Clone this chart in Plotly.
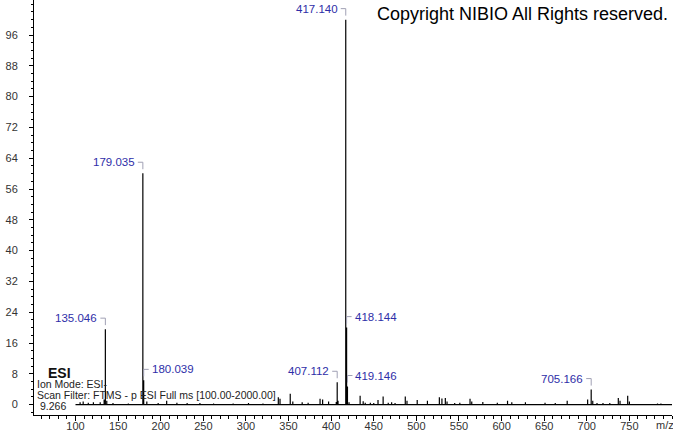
import plotly.graph_objects as go

# ---- data ----
peak_mz = [105.4, 109.0, 115.0, 121.0, 129.0, 133.6, 135.046, 136.7, 144.0, 162.0,
           179.035, 180.039, 183.7, 197.0, 207.0, 219.0, 231.0, 246.0, 262.0, 285.0,
           303.0, 320.0, 338.0, 340.0, 352.0, 355.0, 366.0, 373.0, 387.0, 390.0,
           397.0, 406.0, 407.112, 408.1, 417.140, 418.144, 419.146, 421.0, 434.0, 437.6,
           440.0, 446.0, 450.0, 455.0, 461.0, 467.0, 471.0, 475.0, 487.0, 489.0,
           501.0, 513.0, 527.0, 530.0, 534.0, 536.0, 545.0, 551.0, 563.0, 565.0,
           578.0, 595.0, 607.0, 612.0, 628.0, 651.0, 663.0, 677.0, 701.0, 705.166,
           707.0, 712.0, 719.0, 727.0, 737.0, 739.0, 748.0, 750.0, 783.0, 787.0]
peak_int = [0.6, 0.8, 0.5, 0.6, 0.6, 1.3, 19.6, 1.0, 0.4, 0.3,
            60.1, 6.3, 0.8, 0.4, 1.0, 0.5, 0.4, 0.4, 0.3, 0.3,
            0.4, 0.3, 1.9, 1.5, 2.8, 0.8, 0.6, 0.5, 1.5, 1.3,
            0.8, 0.7, 5.8, 1.0, 100.0, 20.0, 4.7, 0.6, 2.3, 0.9,
            0.5, 0.5, 0.4, 1.2, 2.1, 0.5, 0.6, 0.4, 2.1, 1.0,
            1.2, 1.0, 1.9, 1.6, 1.7, 0.8, 0.4, 0.5, 1.5, 0.8,
            0.7, 0.5, 1.0, 0.6, 0.6, 0.5, 0.4, 1.0, 1.3, 3.9,
            1.0, 0.4, 0.4, 0.4, 1.7, 1.0, 2.3, 0.8, 0.3, 0.3]

scan_start = 100.0
scan_end = 800.0

label_mz = [135.046, 179.035, 180.039, 407.112, 417.140, 418.144, 419.146, 705.166]
label_int = [19.6, 60.1, 6.3, 5.8, 100.0, 20.0, 4.7, 3.9]
label_side = ["left", "left", "right", "left", "left", "right", "right", "left"]
label_text = ["135.046", "179.035", "180.039", "407.112", "417.140", "418.144", "419.146", "705.166"]

y_ticks = [0, 8, 16, 24, 32, 40, 48, 56, 64, 72, 80, 88, 96]
x_ticks = [100, 150, 200, 250, 300, 350, 400, 450, 500, 550, 600, 650, 700, 750]

# ---- build stick spectrum ----
xs = [scan_start]
ys = [0]
for m, h in sorted(zip(peak_mz, peak_int)):
    xs += [m, m, m]
    ys += [0, h, 0]
xs.append(scan_end)
ys.append(0)

fig = go.Figure()
fig.add_trace(go.Scatter(x=xs, y=ys, mode="lines",
                         line=dict(color="black", width=1.2),
                         hoverinfo="skip", showlegend=False))

W, H = 673, 433
L, R, T, B = 34, 1, 0, 18
pw, ph = W - L - R, H - T - B

def px(x):
    return (x - L) / pw

def py(y):
    return (H - B - y) / ph

lab_color = "#2e2ea8"
br_color = "#a0a0b4"
shapes = []
annotations = []
for m, h, side, t in zip(label_mz, label_int, label_side, label_text):
    sgn = -1 if side == "left" else 1
    annotations.append(dict(x=m, y=h, xref="x", yref="y", text=t, showarrow=False,
                            xanchor="right" if side == "left" else "left",
                            yanchor="middle", xshift=sgn * 6, yshift=11,
                            font=dict(family="Liberation Sans, Arial", size=11.5, color=lab_color)))
    shapes.append(dict(type="line", xref="x", yref="y", xsizemode="pixel", ysizemode="pixel",
                       xanchor=m, yanchor=h, x0=0, x1=sgn * 5, y0=11, y1=11,
                       line=dict(color=br_color, width=1)))
    shapes.append(dict(type="line", xref="x", yref="y", xsizemode="pixel", ysizemode="pixel",
                       xanchor=m, yanchor=h, x0=0, x1=0, y0=11, y1=4,
                       line=dict(color=br_color, width=1)))

txt_font = dict(family="Liberation Sans, Arial", size=10.5, color="#222")
annotations += [
    dict(x=px(375), y=py(14), xref="paper", yref="paper", text="Copyright NIBIO All Rights reserved.",
         showarrow=False, xanchor="left", yanchor="middle",
         font=dict(family="Liberation Sans, Arial", size=18, color="black")),
    dict(x=px(46), y=py(373), xref="paper", yref="paper", text="<b>ESI</b>",
         showarrow=False, xanchor="left", yanchor="middle",
         font=dict(family="Liberation Sans, Arial", size=14, color="#111")),
    dict(x=px(35), y=py(384), xref="paper", yref="paper", text="Ion Mode: ESI-",
         showarrow=False, xanchor="left", yanchor="middle", font=txt_font),
    dict(x=px(35), y=py(395), xref="paper", yref="paper",
         text="Scan Filter: FTMS - p ESI Full ms [100.00-2000.00]",
         showarrow=False, xanchor="left", yanchor="middle", font=txt_font),
    dict(x=px(38), y=py(406), xref="paper", yref="paper", text="9.266",
         showarrow=False, xanchor="left", yanchor="middle", font=txt_font),
    dict(x=px(665), y=py(425), xref="paper", yref="paper", text="m/z",
         showarrow=False, xanchor="center", yanchor="middle",
         font=dict(family="Liberation Sans, Arial", size=11, color="#333")),
]

tick_font = dict(family="Liberation Sans, Arial", size=11, color="#333")
fig.update_layout(
    template="none",
    width=W, height=H,
    margin=dict(l=L, r=R, t=T, b=B, pad=0),
    plot_bgcolor="white", paper_bgcolor="white",
    shapes=shapes, annotations=annotations,
    xaxis=dict(range=[51.3, 800], showgrid=False, zeroline=False, automargin=False,
               showline=True, linecolor="black", linewidth=1,
               ticks="outside", ticklen=5, tickcolor="black", tickwidth=1,
               tickvals=x_ticks, ticktext=[str(v) for v in x_ticks],
               tickfont=tick_font, ticklabelstandoff=-4,
               minor=dict(dtick=10, tick0=0, ticks="outside", ticklen=3,
                          tickcolor="black", showgrid=False)),
    yaxis=dict(range=[-2.7, 105.1], showgrid=False, zeroline=False, automargin=False,
               showline=True, linecolor="black", linewidth=1,
               ticks="outside", ticklen=4, tickcolor="black", tickwidth=1,
               tickvals=y_ticks, ticktext=[str(v) for v in y_ticks],
               tickfont=tick_font, ticklabelstandoff=9,
               minor=dict(dtick=2, tick0=0, ticks="outside", ticklen=2,
                          tickcolor="black", showgrid=False)),
)

fig.write_html("out.html", config={"displayModeBar": False},
               post_script="document.body.style.margin='0';document.body.style.overflow='hidden';")
